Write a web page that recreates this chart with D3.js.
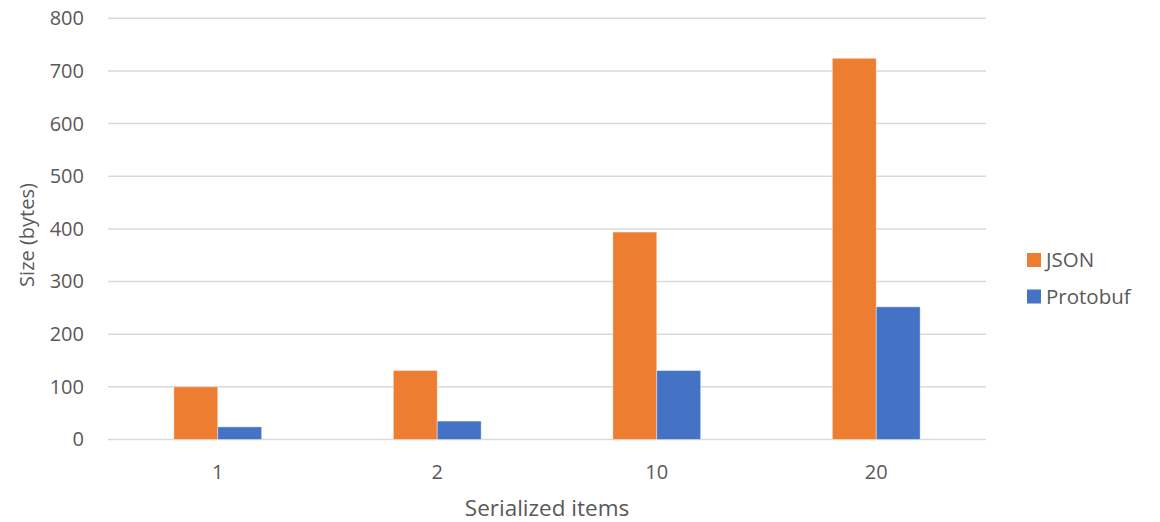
<!DOCTYPE html>
<html><head><meta charset="utf-8">
<script src="https://cdn.jsdelivr.net/npm/d3@7"></script>
<style>body{margin:0;background:#fff}svg{display:block}text{font-family:"Open Sans",sans-serif;fill:#595959}</style>
</head><body><svg id="c" width="1160" height="522"></svg>
<script>
const categories = ["1","2","10","20"];
const seriesNames = ["JSON","Protobuf"];
const jsonValues = [100, 131, 394, 724];
const protobufValues = [24, 35, 131, 252];
const yTicks = [0,100,200,300,400,500,600,700,800];
const colors = ["#ED7D31","#4472C4"];

const svg = d3.select("#c");
const x = d3.scaleBand().domain(categories).range([108,986]).paddingInner(0.6).paddingOuter(0.3);
const xs = d3.scaleBand().domain(seriesNames).range([0, x.bandwidth()]);
const y = d3.scaleLinear().domain([0,800]).range([439.5,18.3]);

// gridlines
svg.append("g").selectAll("line").data(yTicks).join("line")
  .attr("x1",108).attr("x2",986).attr("y1",d=>y(d)).attr("y2",d=>y(d))
  .attr("stroke","#d9d9d9").attr("stroke-width",1.5);

// y axis labels
const yAxis = svg.append("g").attr("transform","translate(84,0)")
  .call(d3.axisLeft(y).tickValues(yTicks).tickSize(0).tickPadding(0));
yAxis.select(".domain").remove();
yAxis.selectAll("text").attr("font-size",20).attr("font-family","Open Sans").attr("fill","#595959");

// bars
const data = categories.map((c,i)=>({c, vals:[jsonValues[i], protobufValues[i]]}));
const g = svg.append("g").selectAll("g").data(data).join("g").attr("transform",d=>`translate(${x(d.c)},0)`);
g.selectAll("rect").data(d=>d.vals.map((v,j)=>({s:seriesNames[j],v,j}))).join("rect")
  .attr("x",d=>xs(d.s)).attr("width",xs.bandwidth())
  .attr("y",d=>y(d.v)).attr("height",d=>y(0)-y(d.v))
  .attr("fill",d=>colors[d.j]).attr("stroke","rgba(255,255,255,0.4)").attr("stroke-width",1);

// x axis labels
const xAxis = svg.append("g").attr("transform","translate(0,471.5)")
  .call(d3.axisBottom(x).tickSize(0).tickPadding(0));
xAxis.select(".domain").remove();
xAxis.selectAll("text").attr("font-size",20).attr("font-family","Open Sans").attr("fill","#595959").attr("dy","0.35em");

// axis titles
svg.append("text").attr("x",547).attr("y",516).attr("text-anchor","middle").attr("font-size",22.5).text("Serialized items");
svg.append("text").attr("transform","translate(34,235) rotate(-90)").attr("text-anchor","middle").attr("font-size",20).text("Size (bytes)");

// legend
const lg = svg.append("g").selectAll("g").data(seriesNames).join("g")
  .attr("transform",(d,i)=>`translate(1027,${253+i*36.5})`);
lg.append("rect").attr("width",14).attr("height",14).attr("fill",(d,i)=>colors[i]);
lg.append("text").attr("x",19).attr("y",14).attr("font-size",20.5).text(d=>d);
</script></body></html>
